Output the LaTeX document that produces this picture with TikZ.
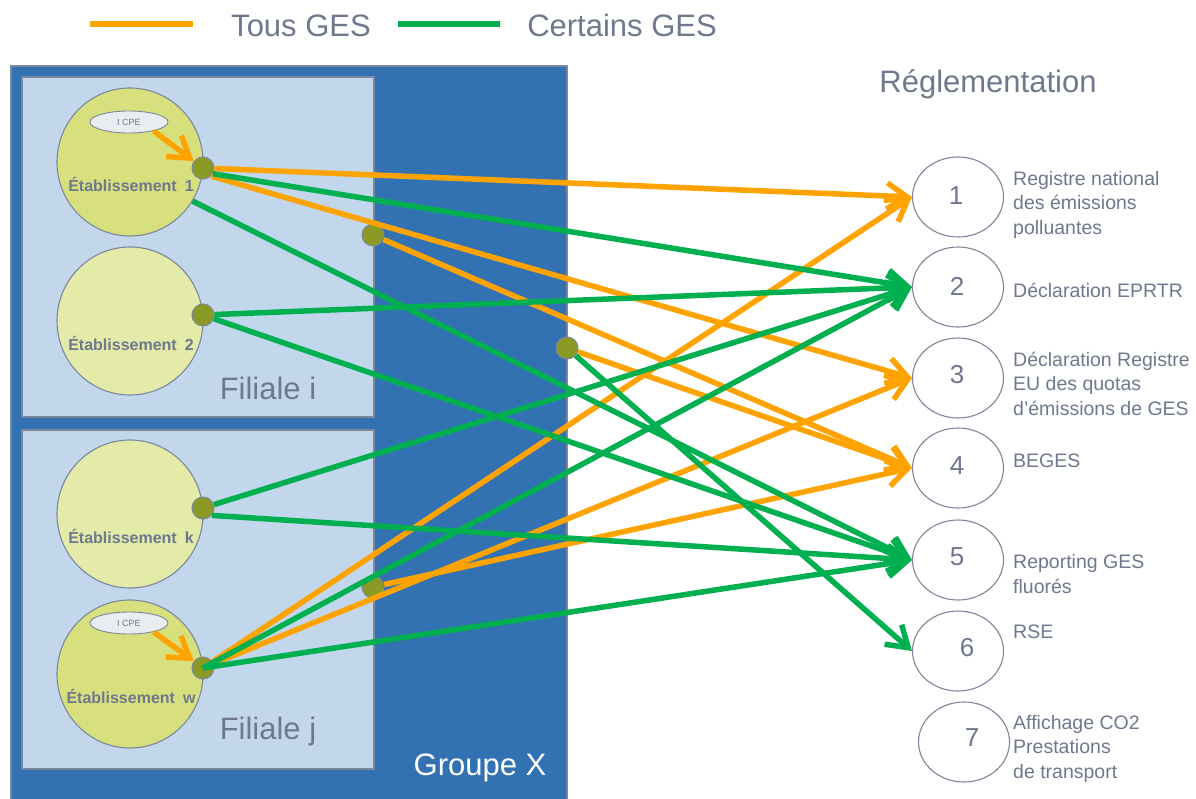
\documentclass[tikz,border=0pt]{standalone}
\usepackage{fontspec}
\setmainfont{Liberation Sans}
\usetikzlibrary{shapes.geometric,arrows.meta}

\definecolor{groupblue}{HTML}{3372B2}
\definecolor{filialefill}{HTML}{C2D7EC}
\definecolor{etabdark}{HTML}{D8E07D}
\definecolor{etablight}{HTML}{E4EAA8}
\definecolor{dotfill}{HTML}{8A9A24}
\definecolor{outline}{HTML}{7D879C}
\definecolor{textgray}{HTML}{6E788E}
\definecolor{tousc}{HTML}{FFA300}
\definecolor{certc}{HTML}{00B050}
\definecolor{icpefill}{HTML}{E9ECF1}

\begin{document}
\begin{tikzpicture}[x=1pt,y=-1pt,
  groupbox/.style={draw=outline,line width=1.2pt,fill=groupblue,inner sep=0pt},
  filialebox/.style={draw=outline,line width=1.2pt,fill=filialefill,inner sep=0pt,
    minimum width=352pt,minimum height=340pt},
  etab/.style={ellipse,draw=outline,line width=1.1pt,inner sep=0pt,
    minimum width=146pt,minimum height=148pt},
  etabtext/.style={anchor=base,inner sep=0pt,text=textgray,
    font=\fontsize{16}{19}\selectfont\bfseries},
  icpe/.style={ellipse,draw=outline,line width=0.9pt,fill=icpefill,inner sep=0pt,
    minimum width=78pt,minimum height=22pt,text=textgray,font=\fontsize{9}{10}\selectfont},
  dotnode/.style={circle,draw=outline,line width=1pt,fill=dotfill,inner sep=0pt,
    minimum size=22pt},
  regc/.style={ellipse,draw=outline,line width=1.1pt,fill=white,inner sep=0pt,
    minimum width=91pt,minimum height=80pt},
  num/.style={inner sep=0pt,text=textgray,font=\fontsize{26}{30}\selectfont},
  lbl/.style={anchor=base west,align=left,inner sep=0pt,text=textgray,
    font=\fontsize{19.5}{24.5}\selectfont},
  big/.style={anchor=base,inner sep=0pt,font=\fontsize{31}{36}\selectfont},
  barb/.style={-{Straight Barb[length=20pt,width=26pt]}},
  tous/.style={draw=tousc,line width=5.5pt,barb},
  certains/.style={draw=certc,line width=5.5pt,barb},
  icpearrow/.style={draw=tousc,line width=5.5pt,barb},
]
\useasboundingbox (0,0) rectangle (1196,798);
\fill[white] (0,0) rectangle (1196,798);

% legend
\coordinate (lgo1) at (90,24);
\coordinate (lgo2) at (193,24);
\coordinate (lgg1) at (398,24);
\coordinate (lgg2) at (500,24);
\draw[tousc,line width=6pt] (lgo1) -- (lgo2);
\draw[certc,line width=6pt] (lgg1) -- (lgg2);
\node[big,text=textgray] (ltous) at (301,36) {Tous GES};
\node[big,text=textgray] (lcert) at (622,36) {Certains GES};

% group and subsidiaries
\node[groupbox,minimum width=556pt,minimum height=736pt] (grp) at (289,434) {};
\node[filialebox] (fi) at (198,247) {};
\node[filialebox,minimum height=339pt] (fj) at (198,599.5) {};
\node[big,text=textgray] (fitxt) at (268,399) {Filiale i};
\node[big,text=textgray] (fjtxt) at (268,739) {Filiale j};
\node[big,text=white] (grptxt) at (480,775) {Groupe X};

% establishments
\node[etab,fill=etabdark] (e1) at (130,162) {};
\node[etab,fill=etablight] (e2) at (130,321) {};
\node[etab,fill=etablight] (ek) at (130,514) {};
\node[etab,fill=etabdark] (ew) at (130,674) {};
\node[etabtext] (t1) at (131,191) {Établissement\enspace 1};
\node[etabtext] (t2) at (131,350) {Établissement\enspace 2};
\node[etabtext] (tk) at (131,543) {Établissement\enspace k};
\node[etabtext] (tw) at (131,703) {Établissement\enspace w};
\node[icpe] (i1) at (129,122) {I CPE};
\node[icpe] (i2) at (129,623) {I CPE};

% connection points
\node[dotnode] (d1) at (203,168) {};
\node[dotnode] (d2) at (203,315) {};
\node[dotnode] (dk) at (203,508) {};
\node[dotnode] (dw) at (203,668) {};
\node[dotnode] (m1) at (373,235) {};
\node[dotnode] (m2) at (567,348) {};
\node[dotnode] (m3) at (373,587) {};

% regulations (multi-line labels are placed by the baseline of their last line)
\node[big,text=textgray] (regtitle) at (988,92) {Réglementation};
\node[regc] (r1) at (958,197) {};
\node[regc] (r2) at (958,287) {};
\node[regc] (r3) at (958,378) {};
\node[regc] (r4) at (958,468) {};
\node[regc] (r5) at (958,560) {};
\node[regc] (r6) at (958,651) {};
\node[regc] (r7) at (964,742) {};
\node[num] (n1) at (956,196) {1};
\node[num] (n2) at (957,286) {2};
\node[num] (n3) at (957,375) {3};
\node[num] (n4) at (957,466) {4};
\node[num] (n5) at (957,557) {5};
\node[num] (n6) at (967,648) {6};
\node[num] (n7) at (972,738) {7};
\node[lbl] (l1) at (1013,234) {Registre national\\des émissions\\polluantes};
\node[lbl] (l2) at (1013,297) {Déclaration EPRTR};
\node[lbl] (l3) at (1013,415) {Déclaration Registre\\EU des quotas\\d’émissions de GES};
\node[lbl] (l4) at (1013,467) {BEGES};
\node[lbl] (l5) at (1013,593) {Reporting GES\\fluorés};
\node[lbl] (l6) at (1013,638) {RSE};
\node[lbl] (l7) at (1013,778) {Affichage CO2\\Prestations\\de transport};

% ICPE links
\draw[icpearrow] (i1.-20) -- (d1);
\draw[icpearrow] (i2.-20) -- (dw);

% all greenhouse gases
\draw[tous] (d1) -- (r1.west);
\draw[tous] (d1.south east) -- (r3.west);
\draw[tous] (m1) -- (r4.west);
\draw[tous] (m2) -- (r4.west);
\draw[tous] (m3) -- (r4.west);
\draw[tous] (dw) -- (r1.west);
\draw[tous] (dw) -- (r3.west);

% some greenhouse gases
\draw[certains] (d1.-30) -- (r2.west);
\draw[certains] (e1.-32) -- (r5.west);
\draw[certains] (d2) -- (r2.west);
\draw[certains] (d2) -- (r5.west);
\draw[certains] (dk) -- (r2.west);
\draw[certains] (dk.-40) -- (r5.west);
\draw[certains] (dw.center) -- (r2.west);
\draw[certains] (dw.center) -- (r5.west);
\draw[certains] (m2) -- (r6.west);
\end{tikzpicture}
\end{document}
